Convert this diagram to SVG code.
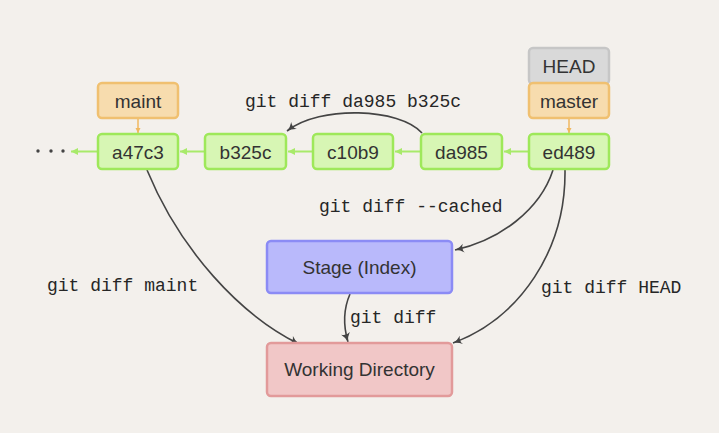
<svg xmlns="http://www.w3.org/2000/svg" width="719" height="433" viewBox="0 0 719 433">
<style>
.commit rect{fill:#d7f6b4;stroke:#9ee85a;stroke-width:2.5}
.branch rect{fill:#f7dcae;stroke:#f0c070;stroke-width:2.5}
.head rect{fill:#d9d9d9;stroke:#c6c6c6;stroke-width:2.5}
.lbl{font-family:"Liberation Sans","DejaVu Sans",sans-serif;font-size:19px;fill:#333;text-anchor:middle;dominant-baseline:central}
.cmd{font-family:"Liberation Mono","DejaVu Sans Mono",monospace;font-size:18px;fill:#262626}
.gl{stroke:#a8ea6a;stroke-width:2;fill:none;marker-end:url(#ga)}
.ol{stroke:#f0b860;stroke-width:1.5;fill:none;marker-end:url(#oa)}
.dl{stroke:#444;stroke-width:1.6;fill:none;marker-end:url(#da)}
</style>
<defs>
<marker id="ga" markerWidth="10" markerHeight="10" refX="8" refY="5" orient="auto" markerUnits="userSpaceOnUse"><path d="M1,1.5 L8,5 L1,8.5 Z" fill="#a8ea6a"/></marker>
<marker id="oa" markerWidth="8" markerHeight="8" refX="6" refY="4" orient="auto" markerUnits="userSpaceOnUse"><path d="M1,1.5 L6,4 L1,6.5 Z" fill="#f0b860"/></marker>
<marker id="da" markerWidth="12" markerHeight="12" refX="10" refY="6" orient="auto" markerUnits="userSpaceOnUse"><path d="M1,1.5 Q5,5 10,6 Q5,7 1,10.5 Q4,6 1,1.5 Z" fill="#444"/></marker>
</defs>
<rect width="719" height="433" fill="#f3f0ec"/>
<g id="connectors">
<path class="gl" d="M421,151.5 H395"/>
<path class="gl" d="M313,151.5 H288"/>
<path class="gl" d="M205,151.5 H180"/>
<path class="gl" d="M98,151.5 H71"/>
<path class="gl" d="M529,151.5 H504"/>
<path class="ol" d="M138,118 V133"/>
<path class="ol" d="M569,118 V133"/>
<path class="dl" d="M422,133 C400,108 320,105 287,131"/>
<path class="dl" d="M147,170 C180,250 240,315 299,344"/>
<path class="dl" d="M565,170 C566,250 520,318 453,343"/>
<path class="dl" d="M553,170 C540,210 500,240 455,250"/>
<path class="dl" d="M350,294 C343,310 343,325 348,342"/>
</g>
<g id="dots" fill="#444"><circle cx="38" cy="151" r="1.7"/><circle cx="51" cy="151" r="1.7"/><circle cx="63" cy="151" r="1.7"/></g>
<g id="a47c3" class="commit"><rect x="98" y="134" width="80" height="35" rx="4"/><text class="lbl" x="138" y="152">a47c3</text></g>
<g id="b325c" class="commit"><rect x="205" y="134" width="81" height="35" rx="4"/><text class="lbl" x="245.5" y="152">b325c</text></g>
<g id="c10b9" class="commit"><rect x="313" y="134" width="80" height="35" rx="4"/><text class="lbl" x="353" y="152">c10b9</text></g>
<g id="da985" class="commit"><rect x="421" y="134" width="81" height="35" rx="4"/><text class="lbl" x="461.5" y="152">da985</text></g>
<g id="ed489" class="commit"><rect x="529" y="134" width="80" height="35" rx="4"/><text class="lbl" x="569" y="152">ed489</text></g>
<g id="maint" class="branch"><rect x="98" y="83" width="80" height="35" rx="4"/><text class="lbl" x="138" y="101">maint</text></g>
<g id="HEAD" class="head"><rect x="529" y="48" width="80" height="36" rx="4"/><text class="lbl" x="569" y="66">HEAD</text></g>
<g id="master" class="branch"><rect x="529" y="83" width="80" height="35" rx="4"/><text class="lbl" x="569" y="101">master</text></g>
<g id="stage"><rect x="267" y="241" width="185" height="52" rx="4" fill="#b9b9fb" stroke="#8b8bf5" stroke-width="2.5"/><text class="lbl" x="359.5" y="267">Stage (Index)</text></g>
<g id="working"><rect x="267" y="343" width="185" height="53" rx="4" fill="#f1c7c7" stroke="#e29a9a" stroke-width="2.5"/><text class="lbl" x="359.5" y="369">Working Directory</text></g>
<g id="labels">
<text class="cmd" x="245" y="107">git diff da985 b325c</text>
<text class="cmd" x="319" y="212">git diff --cached</text>
<text class="cmd" x="47" y="291">git diff maint</text>
<text class="cmd" x="541" y="293">git diff HEAD</text>
<text class="cmd" x="350" y="323">git diff</text>
</g>
</svg>
